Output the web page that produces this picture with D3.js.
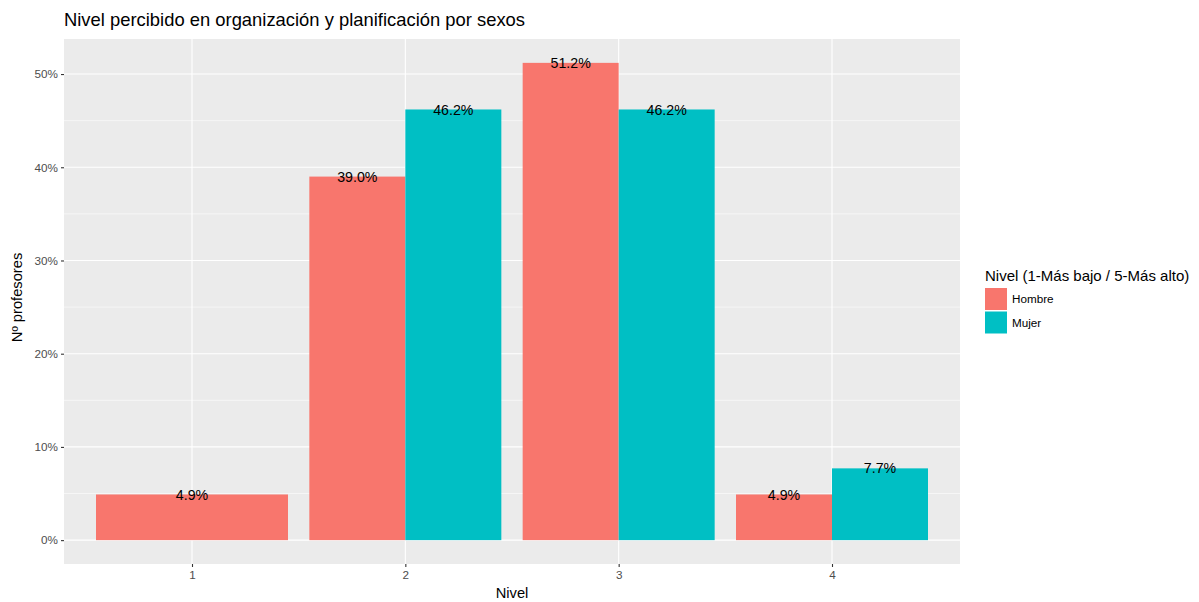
<!DOCTYPE html>
<html><head><meta charset="utf-8">
<script src="https://cdn.jsdelivr.net/npm/d3@7"></script>
<style>body{margin:0;background:#fff;} text{font-family:"Liberation Sans",Arial,sans-serif;}</style>
</head><body><svg id="c" width="1199" height="602"></svg>
<script>
const categories = ["1","2","3","4"];
const seriesNames = ["Hombre","Mujer"];
const hombre = [4.9, 39.0, 51.2, 4.9];
const mujer = [null, 46.2, 46.2, 7.7];
const yTicks = [0,10,20,30,40,50];
const colors = ["#F8766D","#00BFC4"];

const svg = d3.select("#c");
const L=64,R=960,T=39,B=564;
const x = d3.scaleLinear().domain([0.4,4.6]).range([L,R]);
const maxV = d3.max(hombre.concat(mujer.filter(v=>v!=null)));
const y = d3.scaleLinear().domain([-maxV*0.05, maxV*1.05]).range([B,T]);

svg.append("rect").attr("x",L).attr("y",T).attr("width",R-L).attr("height",B-T).attr("fill","#EBEBEB");
const g = svg.append("g");
const minors = d3.range(5,55,10).filter(v=>y(v)>T);
g.selectAll(".mn").data(minors).enter().append("line").attr("x1",L).attr("x2",R)
 .attr("y1",d=>y(d)).attr("y2",d=>y(d)).attr("stroke","#fff").attr("stroke-width",0.55);
g.selectAll(".mj").data(yTicks).enter().append("line").attr("x1",L).attr("x2",R)
 .attr("y1",d=>y(d)).attr("y2",d=>y(d)).attr("stroke","#fff").attr("stroke-width",1.1);
g.selectAll(".vx").data(categories).enter().append("line").attr("y1",T).attr("y2",B)
 .attr("x1",(d,i)=>x(i+1)).attr("x2",(d,i)=>x(i+1)).attr("stroke","#fff").attr("stroke-width",1.1);

const bw = 0.9;
const bars=[];
categories.forEach((c,i)=>{
  const vals=[hombre[i],mujer[i]];
  const present = vals.map((v,j)=>({v,j})).filter(o=>o.v!=null);
  const n=present.length, w=bw/n;
  present.forEach((o,k)=>{
    const x0=(i+1)-bw/2+k*w;
    bars.push({x0,x1:x0+w,v:o.v,j:o.j});
  });
});
g.selectAll(".bar").data(bars).enter().append("rect")
 .attr("x",d=>x(d.x0)).attr("width",d=>x(d.x1)-x(d.x0))
 .attr("y",d=>y(d.v)).attr("height",d=>y(0)-y(d.v)).attr("fill",d=>colors[d.j]);
g.selectAll(".lbl").data(bars).enter().append("text")
 .attr("x",d=>x((d.x0+d.x1)/2)).attr("y",d=>y(d.v)).attr("dy","0.36em")
 .attr("text-anchor","middle").attr("font-size",14.2).attr("fill","#000")
 .text(d=>d.v.toFixed(1)+"%");

const ya = svg.append("g").attr("transform",`translate(${L},0)`)
 .call(d3.axisLeft(y).tickValues(yTicks).tickFormat(d=>d+"%").tickSize(3).tickPadding(3));
const xa = svg.append("g").attr("transform",`translate(0,${B})`)
 .call(d3.axisBottom(x).tickValues([1,2,3,4]).tickFormat((d,i)=>categories[i]).tickSize(3).tickPadding(4));
[ya,xa].forEach(a=>{a.select(".domain").remove();
 a.selectAll(".tick line").attr("stroke","#333").attr("stroke-width",1.1);
 a.selectAll(".tick text").attr("fill","#4D4D4D").attr("font-size",11.7).attr("font-family","Liberation Sans,Arial,sans-serif");});

svg.append("text").attr("x",L).attr("y",26).attr("font-size",18.4).attr("fill","#000")
 .text("Nivel percibido en organización y planificación por sexos");
svg.append("text").attr("x",(L+R)/2).attr("y",598).attr("text-anchor","middle").attr("font-size",14.7).text("Nivel");
svg.append("text").attr("transform",`translate(22,${(T+B)/2 - 4}) rotate(-90)`).attr("text-anchor","middle")
 .attr("font-size",14.7).text("Nº profesores");

const lg = svg.append("g");
lg.append("text").attr("x",985).attr("y",281).attr("font-size",15).text("Nivel (1-Más bajo / 5-Más alto)");
seriesNames.forEach((s,i)=>{
  lg.append("rect").attr("x",985).attr("y",288+i*23.5).attr("width",22).attr("height",22).attr("fill",colors[i]);
  lg.append("text").attr("x",1012).attr("y",299+i*23.5).attr("dy","0.36em").attr("font-size",11.7).text(s);
});
</script></body></html>
